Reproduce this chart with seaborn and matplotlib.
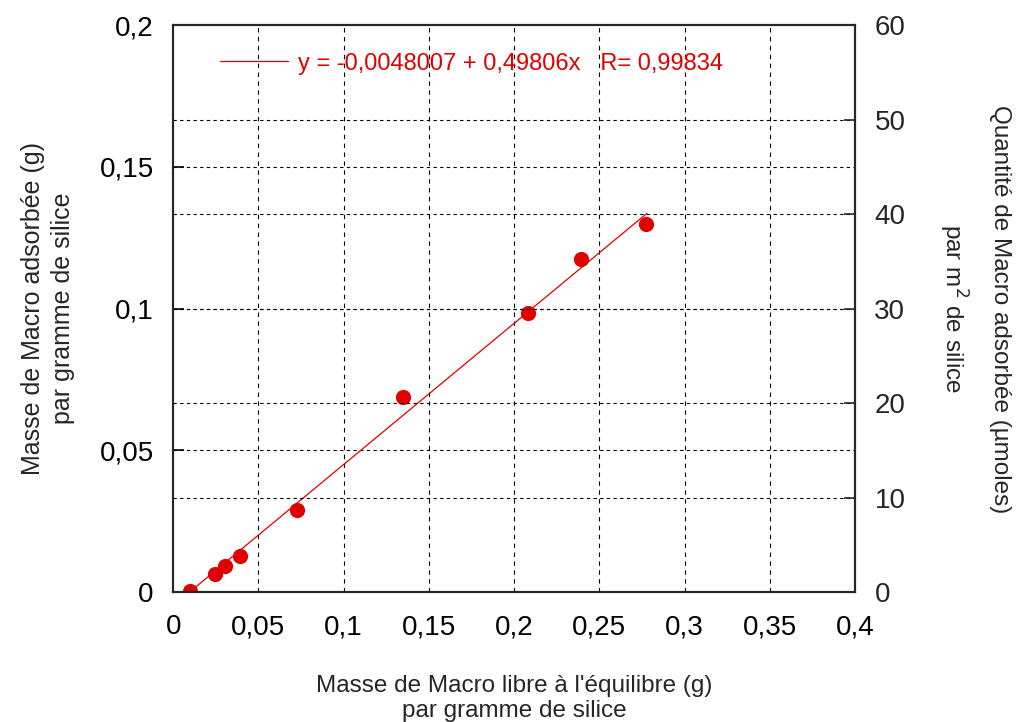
import matplotlib
matplotlib.use('Agg')
import matplotlib.pyplot as plt
import numpy as np
import pandas as pd
import seaborn as sns
from matplotlib.lines import Line2D

# Data
x_libre = [0.0100, 0.0246, 0.0305, 0.0393, 0.0727, 0.1349, 0.2082, 0.2393, 0.2774]
y_adsorbee = [0.0002, 0.0064, 0.0092, 0.0127, 0.0289, 0.0690, 0.0985, 0.1175, 0.1298]
fit_a = -0.0048007
fit_b = 0.49806
fit_r = 0.99834
fit_range = [0.0100, 0.2780]

xticks = [0, 0.05, 0.1, 0.15, 0.2, 0.25, 0.3, 0.35, 0.4]
xticklabels = ['0', '0,05', '0,1', '0,15', '0,2', '0,25', '0,3', '0,35', '0,4']
yticks = [0, 0.05, 0.1, 0.15, 0.2]
yticklabels = ['0', '0,05', '0,1', '0,15', '0,2']
y2ticks = [0, 10, 20, 30, 40, 50, 60]

red = '#e00000'

sns.set_style('white')
plt.rcParams['font.family'] = ['Liberation Sans', 'DejaVu Sans']

df = pd.DataFrame({'x': x_libre, 'y': y_adsorbee})
df_fit = pd.DataFrame({'x': fit_range})
df_fit['y'] = fit_a + fit_b * df_fit['x']

fig = plt.figure(figsize=(10.19, 7.22), dpi=100)
ax = fig.add_axes([0.170, 0.180, 0.669, 0.785])

sns.lineplot(data=df_fit, x='x', y='y', ax=ax, color=red, linewidth=0.9)
sns.scatterplot(data=df, x='x', y='y', ax=ax, color=red, s=120, edgecolor=red,
                linewidth=0, zorder=5)

ax.set_xlim(0, 0.4)
ax.set_ylim(0, 0.2)
ax.set_xticks(xticks)
ax.set_xticklabels(xticklabels)
ax.set_yticks(yticks)
ax.set_yticklabels(yticklabels)
ax.tick_params(axis='y', direction='in', length=8, width=1.2, labelsize=20,
               colors='black', pad=14)
ax.tick_params(axis='x', direction='in', length=8, width=1.2, labelsize=20,
               colors='black', pad=16)

# vertical dashed grid at x ticks, horizontal dotted at left ticks
for xv in xticks[1:-1]:
    ax.axvline(xv, color='black', linestyle=(0, (4, 4)), linewidth=0.8, zorder=0)
for yv in yticks[1:-1]:
    ax.axhline(yv, color='black', linestyle=(0, (3, 3)), linewidth=0.8, zorder=0)

for sp in ax.spines.values():
    sp.set_linewidth(1.5)
    sp.set_color('black')

ax2 = ax.twinx()
ax2.set_ylim(0, 60)
ax2.set_yticks(y2ticks)
ax2.tick_params(axis='y', direction='in', length=8, width=1.2, labelsize=20, pad=14)
for yv in y2ticks[1:-1]:
    ax2.axhline(yv, color='black', linestyle=(0, (3, 3)), linewidth=0.8, zorder=0)
for sp in ax2.spines.values():
    sp.set_linewidth(1.5)

ax.set_xlabel("Masse de Macro libre à l'équilibre (g)\npar gramme de silice",
              fontsize=17.5, labelpad=25, linespacing=1.2)
ax.set_ylabel('Masse de Macro adsorbée (g)\npar gramme de silice',
              fontsize=18, labelpad=18, linespacing=1.3)
ax2.set_ylabel('Quantité de Macro adsorbée (µmoles)\npar m$^2$ de silice',
               fontsize=17.5, rotation=270, labelpad=76, linespacing=1.8)

handle = Line2D([0], [0], color=red, linewidth=0.9)
leg = ax.legend([handle], ['y = -0,0048007 + 0,49806x   R= 0,99834'],
                loc='upper left', bbox_to_anchor=(0.037, 0.989), frameon=False,
                fontsize=17, handlelength=2.9, handletextpad=0.4)
for t in leg.get_texts():
    t.set_color(red)

fig.savefig('out.png', dpi=100)
